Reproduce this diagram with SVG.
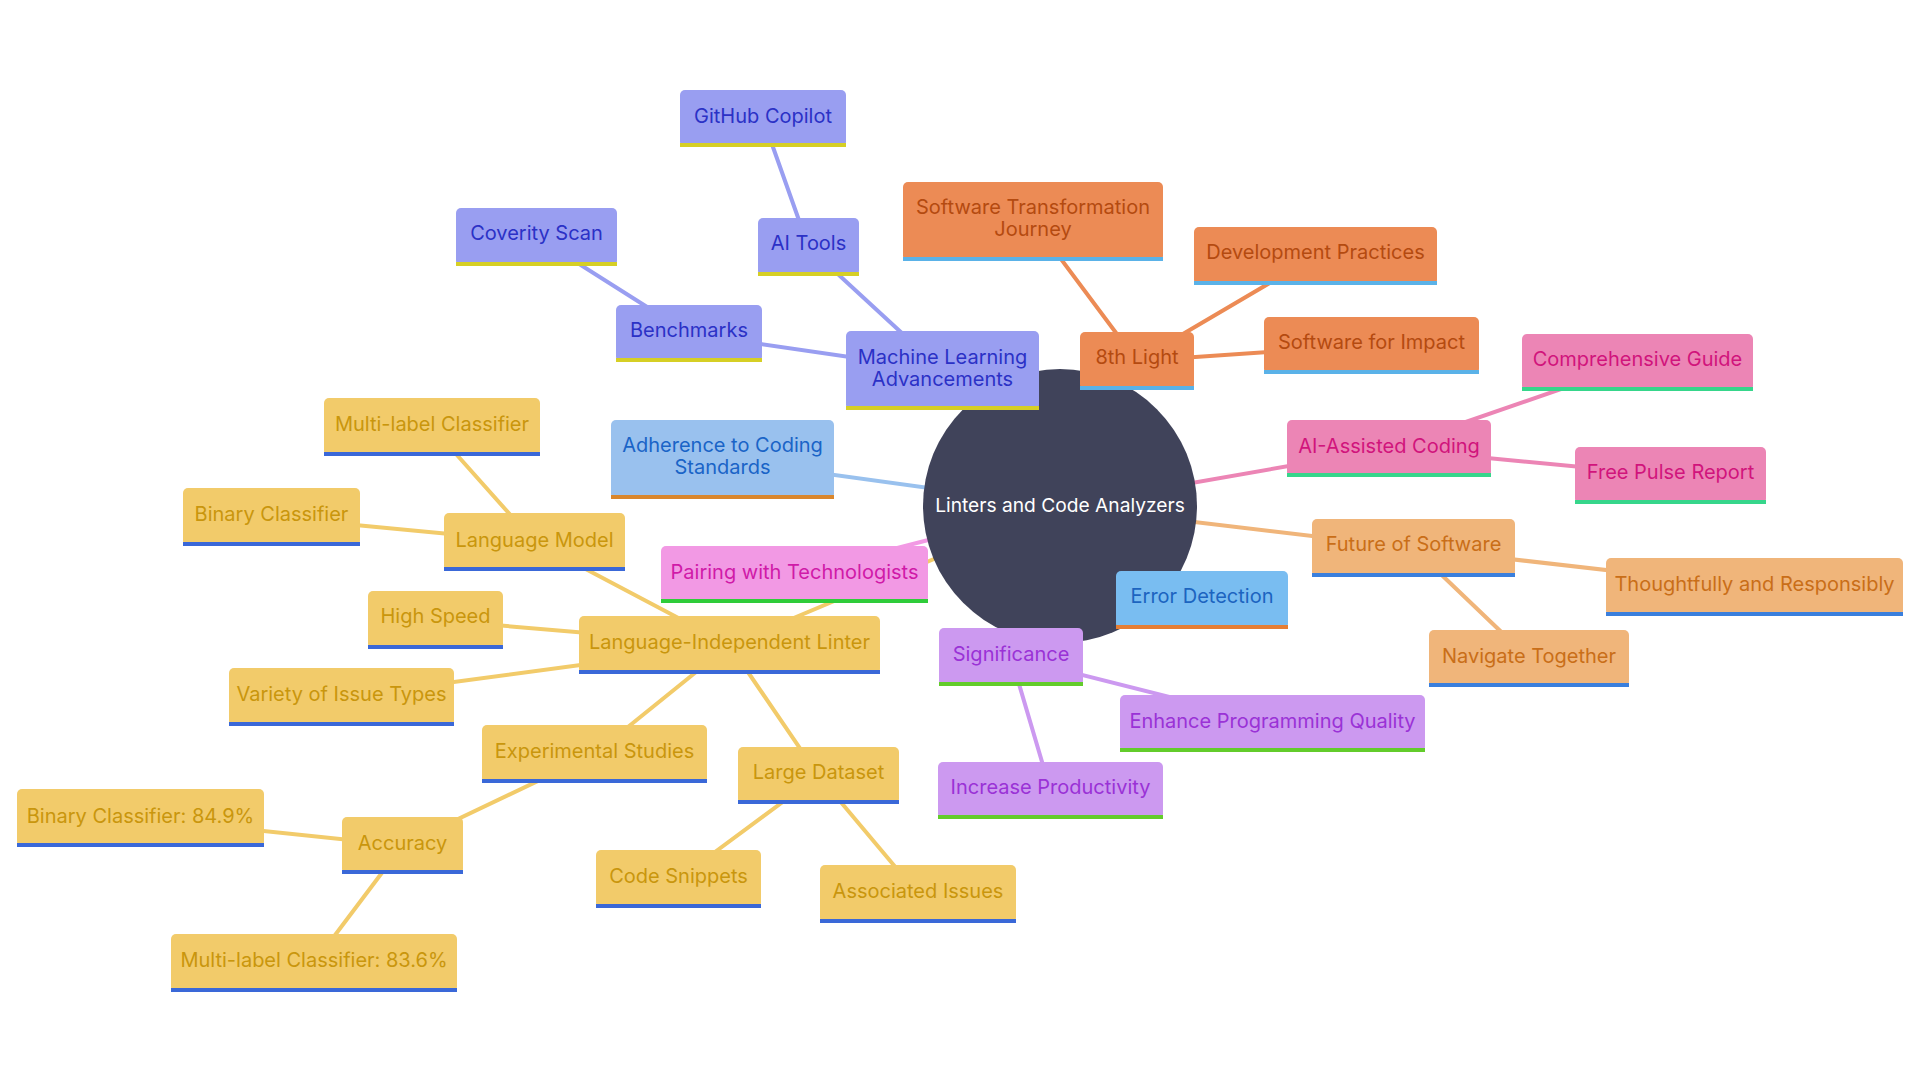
<svg xmlns="http://www.w3.org/2000/svg" width="1920" height="1080" viewBox="0 0 1920 1080">
<style>
text{font-family:Inter,"Noto Sans","Liberation Sans",sans-serif;font-size:20px;text-anchor:middle;dominant-baseline:central}
#root text{font-size:19.2px}
.edges line{stroke-width:4;stroke-linecap:round}
.ml .b{fill:#999ef1}.ml .l{fill:#d6cf25}.ml text{fill:#2b31c6}.e-ml{stroke:#999ef1}
.or .b{fill:#ec8b55}.or .l{fill:#5ab2e8}.or text{fill:#b44a10}.e-or{stroke:#ec8b55}
.pk .b{fill:#ec85b5}.pk .l{fill:#36d68b}.pk text{fill:#d1147c}.e-pk{stroke:#ec85b5}
.fu .b{fill:#f0b57a}.fu .l{fill:#3a7fdd}.fu text{fill:#c96e18}.e-fu{stroke:#f0b57a}
.er .b{fill:#79bdf1}.er .l{fill:#e67e34}.er text{fill:#1c64c0}.e-er{stroke:#79bdf1}
.sg .b{fill:#cc99f0}.sg .l{fill:#63cc2b}.sg text{fill:#9a32d6}.e-sg{stroke:#cc99f0}
.yl .b{fill:#f2cb6a}.yl .l{fill:#3a68d8}.yl text{fill:#c9960d}.e-yl{stroke:#f2cb6a}
.pr .b{fill:#f299e4}.pr .l{fill:#2fcc3a}.pr text{fill:#d01aa8}.e-pr{stroke:#f299e4}
.ad .b{fill:#99c1ee}.ad .l{fill:#d9862c}.ad text{fill:#1a64c7}.e-ad{stroke:#99c1ee}
</style>
<rect width="1920" height="1080" fill="#ffffff"/>
<g id="connectors" class="edges">
<line class="e-ml" x1="1060" y1="506" x2="942.5" y2="370.5"/>
<line class="e-or" x1="1060" y1="506" x2="1137" y2="361"/>
<line class="e-pk" x1="1060" y1="506" x2="1389" y2="448.5"/>
<line class="e-fu" x1="1060" y1="506" x2="1413.5" y2="548"/>
<line class="e-er" x1="1060" y1="506" x2="1202" y2="600"/>
<line class="e-sg" x1="1060" y1="506" x2="1011" y2="657"/>
<line class="e-pr" x1="1060" y1="506" x2="794.5" y2="574.5"/>
<line class="e-ad" x1="1060" y1="506" x2="722.5" y2="459.5"/>
<line class="e-yl" x1="1060" y1="506" x2="729.5" y2="645"/>
<line class="e-ml" x1="942.5" y1="370.5" x2="808.5" y2="247"/>
<line class="e-ml" x1="808.5" y1="247" x2="763" y2="119"/>
<line class="e-ml" x1="942.5" y1="370.5" x2="689" y2="333.5"/>
<line class="e-ml" x1="689" y1="333.5" x2="536.5" y2="237"/>
<line class="e-or" x1="1137" y1="361" x2="1033" y2="221.5"/>
<line class="e-or" x1="1137" y1="361" x2="1315.5" y2="256"/>
<line class="e-or" x1="1137" y1="361" x2="1371.5" y2="345"/>
<line class="e-pk" x1="1389" y1="448.5" x2="1637.5" y2="362.5"/>
<line class="e-pk" x1="1389" y1="448.5" x2="1670.5" y2="475.5"/>
<line class="e-fu" x1="1413.5" y1="548" x2="1754.5" y2="587"/>
<line class="e-fu" x1="1413.5" y1="548" x2="1529" y2="658.5"/>
<line class="e-sg" x1="1011" y1="657" x2="1272.5" y2="723"/>
<line class="e-sg" x1="1011" y1="657" x2="1050.5" y2="790.5"/>
<line class="e-yl" x1="729.5" y1="645" x2="534.5" y2="542"/>
<line class="e-yl" x1="534.5" y1="542" x2="432" y2="427"/>
<line class="e-yl" x1="534.5" y1="542" x2="271.5" y2="517"/>
<line class="e-yl" x1="729.5" y1="645" x2="435.5" y2="620"/>
<line class="e-yl" x1="729.5" y1="645" x2="341.5" y2="697"/>
<line class="e-yl" x1="729.5" y1="645" x2="594.5" y2="754"/>
<line class="e-yl" x1="729.5" y1="645" x2="818.5" y2="775.5"/>
<line class="e-yl" x1="594.5" y1="754" x2="402.5" y2="845.5"/>
<line class="e-yl" x1="402.5" y1="845.5" x2="140.5" y2="818"/>
<line class="e-yl" x1="402.5" y1="845.5" x2="314" y2="963"/>
<line class="e-yl" x1="818.5" y1="775.5" x2="678.5" y2="879"/>
<line class="e-yl" x1="818.5" y1="775.5" x2="918" y2="894"/>
</g>
<g id="root"><circle cx="1060" cy="506" r="137" fill="#40435a"/><text x="1060" y="505" fill="#ffffff">Linters and Code Analyzers</text></g>
<g id="n-ml" class="ml"><rect class="b" x="846" y="331" width="193" height="79" rx="5"/><rect class="l" x="846" y="406" width="193" height="4"/><text x="942.5" y="357">Machine Learning</text><text x="942.5" y="379">Advancements</text></g>
<g id="n-aitools" class="ml"><rect class="b" x="758" y="218" width="101" height="58" rx="5"/><rect class="l" x="758" y="272" width="101" height="4"/><text x="808.5" y="243">AI Tools</text></g>
<g id="n-copilot" class="ml"><rect class="b" x="680" y="90" width="166" height="57" rx="5"/><rect class="l" x="680" y="143" width="166" height="4"/><text x="763" y="116">GitHub Copilot</text></g>
<g id="n-bench" class="ml"><rect class="b" x="616" y="305" width="146" height="57" rx="5"/><rect class="l" x="616" y="358" width="146" height="4"/><text x="689" y="330">Benchmarks</text></g>
<g id="n-coverity" class="ml"><rect class="b" x="456" y="208" width="161" height="58" rx="5"/><rect class="l" x="456" y="262" width="161" height="4"/><text x="536.5" y="233">Coverity Scan</text></g>
<g id="n-8th" class="or"><rect class="b" x="1080" y="332" width="114" height="58" rx="5"/><rect class="l" x="1080" y="386" width="114" height="4"/><text x="1137" y="357">8th Light</text></g>
<g id="n-stj" class="or"><rect class="b" x="903" y="182" width="260" height="79" rx="5"/><rect class="l" x="903" y="257" width="260" height="4"/><text x="1033" y="207">Software Transformation</text><text x="1033" y="229">Journey</text></g>
<g id="n-devprac" class="or"><rect class="b" x="1194" y="227" width="243" height="58" rx="5"/><rect class="l" x="1194" y="281" width="243" height="4"/><text x="1315.5" y="252">Development Practices</text></g>
<g id="n-sfi" class="or"><rect class="b" x="1264" y="317" width="215" height="57" rx="5"/><rect class="l" x="1264" y="370" width="215" height="4"/><text x="1371.5" y="342">Software for Impact</text></g>
<g id="n-aiac" class="pk"><rect class="b" x="1287" y="420" width="204" height="57" rx="5"/><rect class="l" x="1287" y="473" width="204" height="4"/><text x="1389" y="446">AI-Assisted Coding</text></g>
<g id="n-guide" class="pk"><rect class="b" x="1522" y="334" width="231" height="57" rx="5"/><rect class="l" x="1522" y="387" width="231" height="4"/><text x="1637.5" y="359">Comprehensive Guide</text></g>
<g id="n-pulse" class="pk"><rect class="b" x="1575" y="447" width="191" height="57" rx="5"/><rect class="l" x="1575" y="500" width="191" height="4"/><text x="1670.5" y="472">Free Pulse Report</text></g>
<g id="n-future" class="fu"><rect class="b" x="1312" y="519" width="203" height="58" rx="5"/><rect class="l" x="1312" y="573" width="203" height="4"/><text x="1413.5" y="544">Future of Software</text></g>
<g id="n-thought" class="fu"><rect class="b" x="1606" y="558" width="297" height="58" rx="5"/><rect class="l" x="1606" y="612" width="297" height="4"/><text x="1754.5" y="584">Thoughtfully and Responsibly</text></g>
<g id="n-navigate" class="fu"><rect class="b" x="1429" y="630" width="200" height="57" rx="5"/><rect class="l" x="1429" y="683" width="200" height="4"/><text x="1529" y="656">Navigate Together</text></g>
<g id="n-error" class="er"><rect class="b" x="1116" y="571" width="172" height="58" rx="5"/><rect class="l" x="1116" y="625" width="172" height="4"/><text x="1202" y="596">Error Detection</text></g>
<g id="n-sig" class="sg"><rect class="b" x="939" y="628" width="144" height="58" rx="5"/><rect class="l" x="939" y="682" width="144" height="4"/><text x="1011" y="654">Significance</text></g>
<g id="n-enhance" class="sg"><rect class="b" x="1120" y="695" width="305" height="57" rx="5"/><rect class="l" x="1120" y="748" width="305" height="4"/><text x="1272.5" y="721">Enhance Programming Quality</text></g>
<g id="n-increase" class="sg"><rect class="b" x="938" y="762" width="225" height="57" rx="5"/><rect class="l" x="938" y="815" width="225" height="4"/><text x="1050.5" y="787">Increase Productivity</text></g>
<g id="n-pairing" class="pr"><rect class="b" x="661" y="546" width="267" height="57" rx="5"/><rect class="l" x="661" y="599" width="267" height="4"/><text x="794.5" y="572">Pairing with Technologists</text></g>
<g id="n-adherence" class="ad"><rect class="b" x="611" y="420" width="223" height="79" rx="5"/><rect class="l" x="611" y="495" width="223" height="4"/><text x="722.5" y="445">Adherence to Coding</text><text x="722.5" y="467">Standards</text></g>
<g id="n-lil" class="yl"><rect class="b" x="579" y="616" width="301" height="58" rx="5"/><rect class="l" x="579" y="670" width="301" height="4"/><text x="729.5" y="642">Language-Independent Linter</text></g>
<g id="n-langmodel" class="yl"><rect class="b" x="444" y="513" width="181" height="58" rx="5"/><rect class="l" x="444" y="567" width="181" height="4"/><text x="534.5" y="540">Language Model</text></g>
<g id="n-mlc" class="yl"><rect class="b" x="324" y="398" width="216" height="58" rx="5"/><rect class="l" x="324" y="452" width="216" height="4"/><text x="432" y="424">Multi-label Classifier</text></g>
<g id="n-bc" class="yl"><rect class="b" x="183" y="488" width="177" height="58" rx="5"/><rect class="l" x="183" y="542" width="177" height="4"/><text x="271.5" y="514">Binary Classifier</text></g>
<g id="n-speed" class="yl"><rect class="b" x="368" y="591" width="135" height="58" rx="5"/><rect class="l" x="368" y="645" width="135" height="4"/><text x="435.5" y="616">High Speed</text></g>
<g id="n-variety" class="yl"><rect class="b" x="229" y="668" width="225" height="58" rx="5"/><rect class="l" x="229" y="722" width="225" height="4"/><text x="341.5" y="694">Variety of Issue Types</text></g>
<g id="n-exp" class="yl"><rect class="b" x="482" y="725" width="225" height="58" rx="5"/><rect class="l" x="482" y="779" width="225" height="4"/><text x="594.5" y="751">Experimental Studies</text></g>
<g id="n-large" class="yl"><rect class="b" x="738" y="747" width="161" height="57" rx="5"/><rect class="l" x="738" y="800" width="161" height="4"/><text x="818.5" y="772">Large Dataset</text></g>
<g id="n-acc" class="yl"><rect class="b" x="342" y="817" width="121" height="57" rx="5"/><rect class="l" x="342" y="870" width="121" height="4"/><text x="402.5" y="843">Accuracy</text></g>
<g id="n-bc849" class="yl"><rect class="b" x="17" y="789" width="247" height="58" rx="5"/><rect class="l" x="17" y="843" width="247" height="4"/><text x="140.5" y="816">Binary Classifier: 84.9%</text></g>
<g id="n-mlc836" class="yl"><rect class="b" x="171" y="934" width="286" height="58" rx="5"/><rect class="l" x="171" y="988" width="286" height="4"/><text x="314" y="960">Multi-label Classifier: 83.6%</text></g>
<g id="n-snippets" class="yl"><rect class="b" x="596" y="850" width="165" height="58" rx="5"/><rect class="l" x="596" y="904" width="165" height="4"/><text x="678.5" y="876">Code Snippets</text></g>
<g id="n-assoc" class="yl"><rect class="b" x="820" y="865" width="196" height="58" rx="5"/><rect class="l" x="820" y="919" width="196" height="4"/><text x="918" y="891">Associated Issues</text></g>
</svg>
